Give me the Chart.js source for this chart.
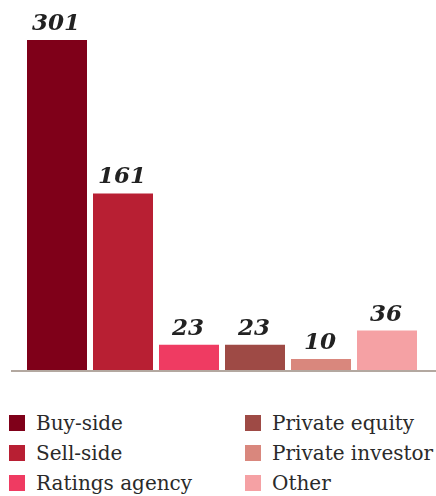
<!DOCTYPE html>
<html>
<head>
<meta charset="utf-8">
<script src="https://cdn.jsdelivr.net/npm/chart.js@4.4.1/dist/chart.umd.min.js"></script>
<style>
  body { margin: 0; background: #fff; width: 436px; height: 496px; overflow: hidden; }
  #wrap { position: relative; width: 436px; height: 400px; }
  #legend {
    display: grid;
    grid-template-columns: 236px 191px;
    grid-auto-flow: column;
    grid-template-rows: repeat(3, 30px);
    padding: 8px 0 0 9px;
    font-family: "DejaVu Serif", serif;
    font-size: 20px;
    color: #2a2a2a;
  }
  .item { display: flex; align-items: center; white-space: nowrap; }
  .swatch { width: 16px; height: 16px; margin-right: 11px; flex: none; }
</style>
</head>
<body>
<div id="wrap"><canvas id="chartTipos"></canvas></div>
<div id="legend"></div>

<script>
const categorias = ["Buy-side", "Sell-side", "Ratings agency", "Private equity", "Private investor", "Other"];
const valores = [301, 161, 23, 23, 10, 36];
const colores = ["#7f0019", "#b81f33", "#ef3b62", "#9e4a45", "#d9877d", "#f5a1a4"];

document.addEventListener("DOMContentLoaded", () => {
  renderGrafica();
  renderLeyenda();
});

/* ===========================================
      línea base bajo las barras
=========================================== */
const lineaBase = {
  id: "lineaBase",
  afterDatasetsDraw(chart) {
    const { ctx, chartArea, scales } = chart;
    const y0 = scales.y.getPixelForValue(0);
    ctx.save();
    ctx.fillStyle = "#b3a8a0";
    ctx.fillRect(chartArea.left - 13, y0, chart.width - chartArea.left + 13, 2);
    ctx.restore();
  }
};

/* ===========================================
      etiquetas con el valor encima de cada barra
=========================================== */
const etiquetasValor = {
  id: "etiquetasValor",
  afterDatasetsDraw(chart) {
    const { ctx } = chart;
    const meta = chart.getDatasetMeta(0);
    ctx.save();
    ctx.font = "italic bold 23px 'DejaVu Serif'";
    ctx.fillStyle = "#222";
    ctx.textAlign = "center";
    ctx.textBaseline = "alphabetic";
    meta.data.forEach((bar, i) => {
      ctx.fillText(String(valores[i]), bar.x - 1, bar.y - 10);
    });
    ctx.restore();
  }
};

function renderGrafica() {
  const ctx = document.getElementById("chartTipos");

  new Chart(ctx, {
    type: "bar",
    data: {
      labels: categorias,
      datasets: [
        {
          data: valores,
          backgroundColor: colores,
          borderWidth: 0,
          categoryPercentage: 1,
          barPercentage: 60 / 66
        }
      ]
    },
    options: {
      responsive: true,
      maintainAspectRatio: false,
      animation: false,
      layout: { padding: { top: 40, bottom: 30, left: 24, right: 16 } },
      plugins: { legend: { display: false }, tooltip: { enabled: false } },
      scales: {
        x: { display: false },
        y: { display: false, min: 0, max: Math.max(...valores) }
      }
    },
    plugins: [lineaBase, etiquetasValor]
  });
}

function renderLeyenda() {
  const contenedor = document.getElementById("legend");
  categorias.forEach((nombre, i) => {
    const div = document.createElement("div");
    div.className = "item";
    div.innerHTML = `<span class="swatch" style="background:${colores[i]}"></span>${nombre}`;
    contenedor.appendChild(div);
  });
}
</script>
</body>
</html>
